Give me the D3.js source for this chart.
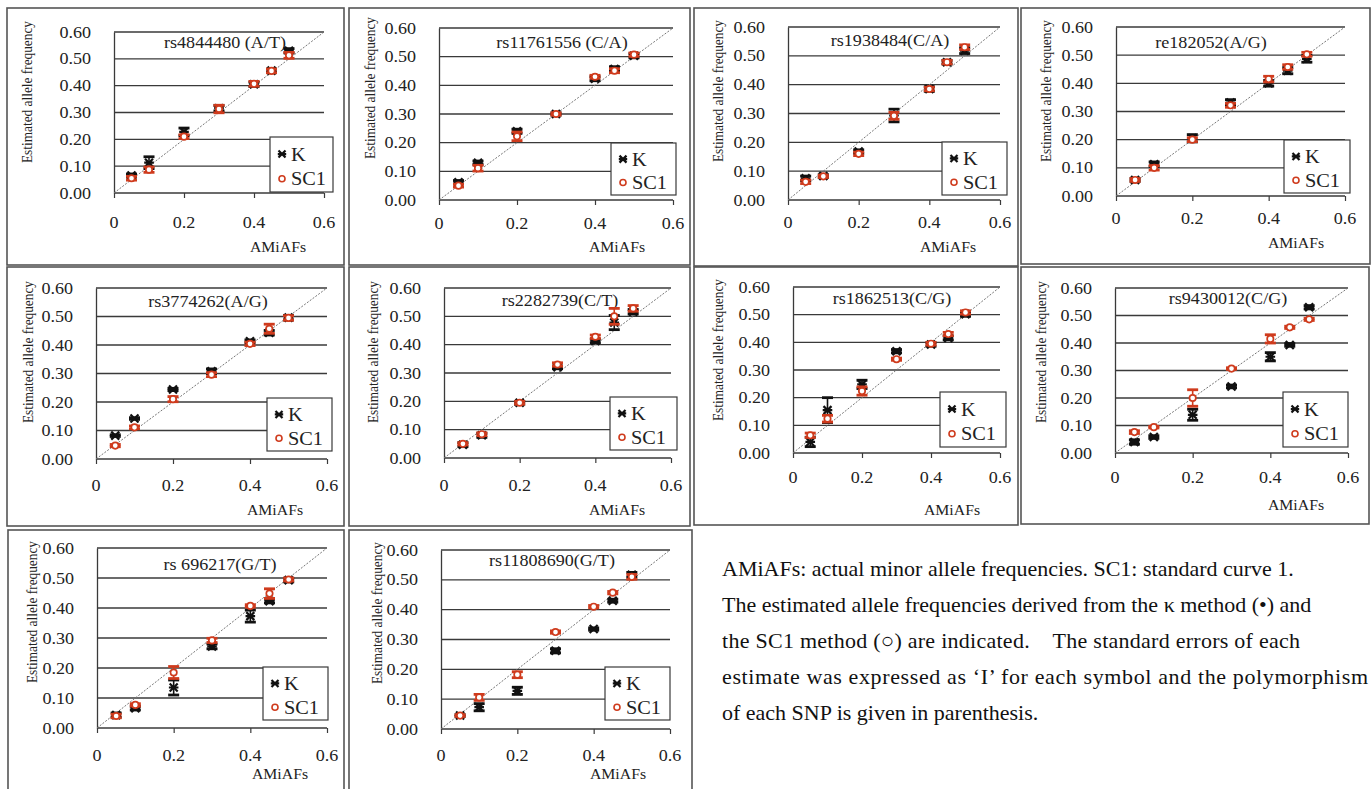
<!DOCTYPE html>
<html><head><meta charset="utf-8">
<script src="https://cdn.jsdelivr.net/npm/d3@7"></script>
<style>html,body{margin:0;padding:0;background:#fff;}svg{display:block;} text{font-family:"Liberation Serif","DejaVu Serif",serif;}</style>
</head><body>
<svg id="chart" width="1372" height="789"></svg>
<script>
// ---------- DATA ----------
const xValues = [0.05, 0.1, 0.2, 0.3, 0.4, 0.45, 0.5];
const snpNames = ["rs4844480 (A/T)", "rs11761556 (C/A)", "rs1938484(C/A)", "re182052(A/G)",
  "rs3774262(A/G)", "rs2282739(C/T)", "rs1862513(C/G)", "rs9430012(C/G)",
  "rs 696217(G/T)", "rs11808690(G/T)"];
const kValues = [
  [0.065,0.113,0.228,0.316,0.405,0.456,0.530],
  [0.062,0.130,0.240,0.300,0.423,0.457,0.503],
  [0.075,0.083,0.168,0.293,0.385,0.478,0.518],
  [0.057,0.113,0.205,0.332,0.400,0.445,0.487],
  [0.082,0.142,0.244,0.308,0.413,0.443,0.496],
  [0.047,0.080,0.195,0.320,0.413,0.478,0.516],
  [0.040,0.155,0.248,0.368,0.392,0.416,0.502],
  [0.040,0.058,0.139,0.242,0.350,0.393,0.530],
  [0.043,0.066,0.135,0.272,0.373,0.423,0.493],
  [0.045,0.073,0.128,0.262,0.335,0.430,0.517]
];
const kErrors = [
  [0.006,0.022,0.014,0.010,0.008,0.006,0.008],
  [0.006,0.006,0.007,0.004,0.007,0.008,0.007],
  [0.008,0.005,0.006,0.022,0.008,0.006,0.010],
  [0.005,0.008,0.013,0.010,0.010,0.011,0.012],
  [0.003,0.003,0.004,0.008,0.005,0.008,0.008],
  [0.007,0.007,0.005,0.005,0.006,0.025,0.008],
  [0.017,0.045,0.015,0.006,0.006,0.007,0.008],
  [0.008,0.005,0.020,0.005,0.015,0.005,0.006],
  [0.007,0.006,0.025,0.008,0.020,0.006,0.006],
  [0.003,0.012,0.012,0.007,0.004,0.005,0.008]
];
const sc1Values = [
  [0.055,0.087,0.210,0.313,0.407,0.455,0.513],
  [0.050,0.111,0.222,0.300,0.430,0.451,0.507],
  [0.063,0.082,0.160,0.292,0.385,0.478,0.530],
  [0.057,0.100,0.200,0.322,0.415,0.458,0.503],
  [0.047,0.111,0.210,0.296,0.404,0.457,0.495],
  [0.050,0.084,0.195,0.330,0.428,0.500,0.528],
  [0.064,0.124,0.224,0.339,0.395,0.430,0.508],
  [0.076,0.094,0.200,0.307,0.415,0.457,0.486],
  [0.040,0.077,0.185,0.292,0.407,0.448,0.495],
  [0.045,0.106,0.182,0.325,0.410,0.457,0.510]
];
const sc1Errors = [
  [0.007,0.010,0.007,0.014,0.009,0.007,0.011],
  [0.005,0.010,0.015,0.004,0.005,0.007,0.006],
  [0.006,0.004,0.006,0.012,0.006,0.006,0.008],
  [0.005,0.008,0.007,0.007,0.010,0.008,0.007],
  [0.004,0.005,0.009,0.007,0.006,0.016,0.008],
  [0.004,0.005,0.005,0.006,0.006,0.028,0.010],
  [0.008,0.012,0.015,0.004,0.005,0.006,0.006],
  [0.005,0.003,0.030,0.003,0.015,0.004,0.004],
  [0.006,0.004,0.020,0.007,0.004,0.016,0.005],
  [0.003,0.010,0.010,0.004,0.004,0.004,0.008]
];
const xTicks = [0, 0.2, 0.4, 0.6];
const xTickLabels = ["0", "0.2", "0.4", "0.6"];
const yTicks = [0, 0.1, 0.2, 0.3, 0.4, 0.5, 0.6];
const yTickLabels = ["0.00","0.10","0.20","0.30","0.40","0.50","0.60"];
const legendLabels = ["K", "SC1"];
const xAxisTitle = "AMiAFs";
const yAxisTitle = "Estimated allele frequency";
const captionLines = [
  "AMiAFs: actual minor allele frequencies. SC1: standard curve 1.",
  "The estimated allele frequencies derived from the \u03BA method (\u2022) and",
  "the SC1 method (\u25CB) are indicated.\u00A0\u00A0\u00A0 The standard errors of each",
  "estimate was expressed as \u2018I\u2019 for each symbol and the polymorphism",
  "of each SNP is given in parenthesis."
];

// ---------- LAYOUT ----------
const layout = [
  {box:[7,8,337,257],   plot:[114,324,32,193],  leg:[270,137,63,55],  title:[225,48],  ylab:[27,92],   xlab:[278,247], xtick:222},
  {box:[349,8,341,257], plot:[439,673,28,200],  leg:[611,143,65,52],  title:[562,48],  ylab:[370,88],  xlab:[617,247], xtick:223},
  {box:[694,8,324,258], plot:[788,1000,27,200], leg:[942,142,65,53],  title:[890,46],  ylab:[718,91],  xlab:[948,247], xtick:222},
  {box:[1021,8,349,256],plot:[1116,1345,27,196],leg:[1284,140,66,53], title:[1211,48], ylab:[1046,91], xlab:[1296,243],xtick:218},
  {box:[7,267,337,259], plot:[96,327,288,459],  leg:[267,398,65,53],  title:[208,307], ylab:[28,352],  xlab:[275,510], xtick:485},
  {box:[349,267,341,259],plot:[444,671,288,458],leg:[610,397,67,53],  title:[560,306], ylab:[373,352], xlab:[617,510], xtick:485},
  {box:[694,267,324,258],plot:[793,1000,287,453],leg:[940,392,66,55], title:[892,304], ylab:[718,350], xlab:[952,510], xtick:477},
  {box:[1021,267,348,257],plot:[1115,1348,288,453],leg:[1283,392,65,55],title:[1228,304],ylab:[1041,352],xlab:[1296,505],xtick:477},
  {box:[8,530,336,262], plot:[97,327,548,728],  leg:[263,667,65,53],  title:[220,570], ylab:[32,612],  xlab:[280,774], xtick:755},
  {box:[349,530,343,262],plot:[441,670,550,729],leg:[605,667,65,53],  title:[552,566], ylab:[377,613], xlab:[618,774], xtick:755}
];

const RED = "#cf3b1d", BLACK = "#111", GRID = "#3a3a3a", FRAME = "#555";
const SX = 1.13;

const svg = d3.select("#chart");

function txt(parent, x, y, s, size, anchor) {
  const g = parent.append("g").attr("transform", `translate(${x},${y}) scale(${SX},1)`);
  return g.append("text").attr("text-anchor", anchor)
    .attr("font-size", size).attr("fill", "#222").text(s);
}

function drawAsterisk(g, cx, cy, r) {
  const p = d3.path();
  p.moveTo(cx - r, cy - r); p.lineTo(cx + r, cy + r);
  p.moveTo(cx - r, cy + r); p.lineTo(cx + r, cy - r);
  p.moveTo(cx - r * 1.2, cy); p.lineTo(cx + r * 1.2, cy);
  g.append("path").attr("d", p.toString()).attr("stroke", BLACK).attr("stroke-width", 2.2).attr("fill", "none");
}

layout.forEach((L, i) => {
  const g = svg.append("g");
  g.append("rect").attr("x", L.box[0]).attr("y", L.box[1]).attr("width", L.box[2]).attr("height", L.box[3])
    .attr("fill", "none").attr("stroke", FRAME).attr("stroke-width", 1.6);

  const x = d3.scaleLinear().domain([0, 0.6]).range([L.plot[0], L.plot[1]]);
  const y = d3.scaleLinear().domain([0, 0.6]).range([L.plot[3], L.plot[2]]);

  g.append("g").selectAll("line").data(yTicks.filter(t => t > 0)).join("line")
    .attr("x1", x(0)).attr("x2", x(0.6)).attr("y1", d => y(d)).attr("y2", d => y(d))
    .attr("stroke", GRID).attr("stroke-width", 1.3);

  const xAxis = d3.axisBottom(x).tickValues(xTicks).tickSize(5).tickFormat("");
  const xa = g.append("g").attr("transform", `translate(0,${y(0)})`).call(xAxis);
  xa.select(".domain").attr("stroke", GRID).attr("stroke-width", 1.3).attr("d", `M${x(0)},0H${x(0.6)}`);
  xa.selectAll(".tick line").attr("stroke", GRID).attr("stroke-width", 1.2);
  const yAxis = d3.axisLeft(y).tickValues(yTicks).tickSize(0).tickFormat("");
  const ya = g.append("g").attr("transform", `translate(${x(0)},0)`).call(yAxis);
  ya.select(".domain").attr("stroke", GRID).attr("stroke-width", 1.3);

  xTicks.forEach((t, j) => txt(g, x(t), L.xtick + 6, xTickLabels[j], 16, "middle"));
  yTicks.forEach((t, j) => txt(g, x(0) - 23, y(t) + 5.5, yTickLabels[j], 16, "end"));

  g.append("line").attr("x1", x(0)).attr("y1", y(0)).attr("x2", x(0.6)).attr("y2", y(0.6))
    .attr("stroke", "#777").attr("stroke-width", 1).attr("stroke-dasharray", "2,1.5");

  txt(g, L.title[0], L.title[1], snpNames[i], 16, "middle");
  txt(g, L.xlab[0], L.xlab[1] + 5, xAxisTitle, 14, "middle");
  const yl = g.append("g").attr("transform", `translate(${L.ylab[0] + 5},${L.ylab[1]}) rotate(-90) scale(0.92,1.05)`);
  yl.append("text").attr("text-anchor", "middle").attr("font-size", 14.5)
    .attr("fill", "#222").text(yAxisTitle);

  const kg = g.append("g");
  xValues.forEach((xv, j) => {
    const v = kValues[i][j], e = kErrors[i][j];
    const cx = x(xv);
    kg.append("line").attr("x1", cx).attr("x2", cx).attr("y1", y(v - e)).attr("y2", y(v + e))
      .attr("stroke", BLACK).attr("stroke-width", 1.6);
    [v - e, v + e].forEach(b => kg.append("line").attr("x1", cx - 5.5).attr("x2", cx + 5.5)
      .attr("y1", y(b)).attr("y2", y(b)).attr("stroke", BLACK).attr("stroke-width", 2.8));
    drawAsterisk(kg, cx, y(v), 4);
  });
  const sg = g.append("g");
  xValues.forEach((xv, j) => {
    const v = sc1Values[i][j], e = sc1Errors[i][j];
    const cx = x(xv);
    sg.append("line").attr("x1", cx).attr("x2", cx).attr("y1", y(v - e)).attr("y2", y(v + e))
      .attr("stroke", RED).attr("stroke-width", 1.6);
    [v - e, v + e].forEach(b => sg.append("line").attr("x1", cx - 5.5).attr("x2", cx + 5.5)
      .attr("y1", y(b)).attr("y2", y(b)).attr("stroke", RED).attr("stroke-width", 2.8));
    sg.append("circle").attr("cx", cx).attr("cy", y(v)).attr("r", 3.2)
      .attr("fill", "#fff").attr("stroke", RED).attr("stroke-width", 1.7);
  });

  const [lx, ly, lw, lh] = L.leg;
  g.append("rect").attr("x", lx).attr("y", ly).attr("width", lw).attr("height", lh)
    .attr("fill", "#fff").attr("stroke", GRID).attr("stroke-width", 1.2);
  drawAsterisk(g, lx + 12, ly + lh * 0.31, 3.5);
  txt(g, lx + 21, ly + lh * 0.31 + 6.5, legendLabels[0], 18, "start");
  g.append("circle").attr("cx", lx + 12).attr("cy", ly + lh * 0.76).attr("r", 3)
    .attr("fill", "#fff").attr("stroke", RED).attr("stroke-width", 1.6);
  txt(g, lx + 21, ly + lh * 0.76 + 6.5, legendLabels[1], 18, "start");
});

const capLengths = [null, null, 578, 646, null];
const cap = svg.append("g");
captionLines.forEach((s, k) => {
  const t = cap.append("text").attr("x", 722).attr("y", 576 + k * 36)
    .attr("font-size", 22).attr("fill", "#111").text(s);
  if (capLengths[k]) t.attr("textLength", capLengths[k]).attr("lengthAdjust", "spacing");
});
</script>
</body></html>
